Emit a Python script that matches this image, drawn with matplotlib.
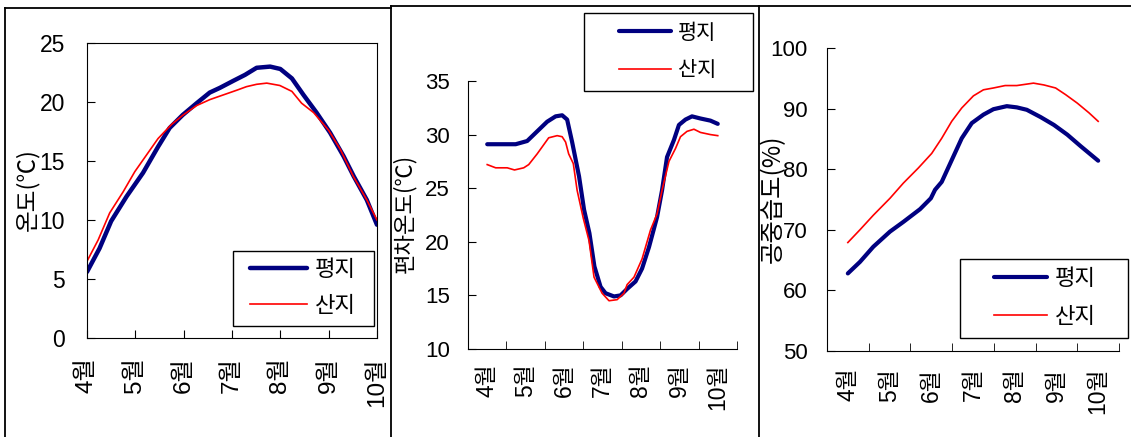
import matplotlib
matplotlib.use('Agg')
import matplotlib.pyplot as plt
from matplotlib.lines import Line2D
from matplotlib.legend_handler import HandlerLine2D

plt.rcParams['font.family'] = ['Liberation Sans', 'Noto Sans CJK KR', 'DejaVu Sans']

# 월별 눈금
months = [4, 5, 6, 7, 8, 9, 10]
month_labels = ['4월', '5월', '6월', '7월', '8월', '9월', '10월']
series_names = ['평지', '산지']

# 온도(℃)
temp_x_flat = [4.0, 4.26, 4.5, 4.82, 5.16, 5.47, 5.71, 5.98, 6.27, 6.54, 6.75, 7.03,
               7.27, 7.51, 7.79, 8.0, 8.24, 8.48, 8.75, 9.03, 9.31, 9.52, 9.79, 10.0]
temp_flat = [5.6, 7.6, 9.9, 12.0, 14.0, 16.2, 17.8, 18.9, 19.9, 20.8, 21.2, 21.8,
             22.3, 22.9, 23.0, 22.8, 22.0, 20.6, 19.1, 17.4, 15.4, 13.7, 11.7, 9.6]
temp_x_mtn = [4.0, 4.23, 4.47, 4.75, 4.99, 5.23, 5.47, 5.75, 5.99, 6.27, 6.54, 6.82, 7.10,
              7.30, 7.51, 7.72, 7.99, 8.24, 8.44, 8.69, 9.0, 9.24, 9.51, 9.79, 10.0]
temp_mtn = [6.5, 8.3, 10.6, 12.4, 14.1, 15.5, 16.9, 18.1, 18.9, 19.7, 20.2, 20.6, 21.0,
            21.3, 21.5, 21.6, 21.4, 20.9, 19.9, 19.1, 17.6, 16.0, 13.7, 11.7, 10.0]

# 편차온도(℃)
diff_x_flat = [4.0, 4.35, 4.74, 5.04, 5.30, 5.56, 5.78, 5.95, 6.08, 6.21, 6.39, 6.52, 6.66,
               6.79, 6.95, 7.08, 7.30, 7.47, 7.64, 7.86, 8.03, 8.21, 8.42, 8.55, 8.68, 8.86,
               8.99, 9.16, 9.33, 9.55, 9.81, 10.0]
diff_flat = [29.1, 29.1, 29.1, 29.4, 30.3, 31.2, 31.7, 31.8, 31.4, 29.3, 26.1, 23.0, 20.8,
             17.7, 15.8, 15.2, 14.9, 15.0, 15.6, 16.3, 17.5, 19.5, 22.3, 24.8, 27.9, 29.5,
             30.9, 31.4, 31.7, 31.5, 31.3, 31.0]
diff_x_mtn = [4.0, 4.22, 4.52, 4.71, 4.95, 5.08, 5.30, 5.60, 5.82, 5.95, 6.04, 6.12, 6.24,
              6.34, 6.50, 6.65, 6.78, 6.99, 7.17, 7.38, 7.56, 7.64, 7.82, 8.03, 8.25, 8.42,
              8.55, 8.73, 8.90, 9.03, 9.20, 9.38, 9.55, 9.81, 10.0]
diff_mtn = [27.2, 26.9, 26.9, 26.7, 26.9, 27.2, 28.2, 29.7, 29.9, 29.8, 29.3, 28.2, 27.3,
            24.8, 22.2, 20.1, 16.7, 15.2, 14.5, 14.6, 15.2, 16.0, 16.7, 18.4, 21.1, 22.6,
            24.8, 27.5, 28.7, 29.8, 30.3, 30.5, 30.2, 30.0, 29.9]

# 공중습도(%)
hum_x_flat = [4.0, 4.29, 4.61, 5.01, 5.33, 5.73, 5.99, 6.09, 6.25, 6.49, 6.73, 6.97,
              7.25, 7.49, 7.81, 8.05, 8.29, 8.62, 8.94, 9.26, 9.58, 10.0]
hum_flat = [62.8, 64.7, 67.2, 69.7, 71.3, 73.4, 75.2, 76.6, 77.9, 81.5, 85.1, 87.6,
            89.0, 89.9, 90.4, 90.2, 89.8, 88.6, 87.3, 85.7, 83.8, 81.4]
hum_x_mtn = [4.0, 4.29, 4.61, 5.01, 5.33, 5.69, 6.01, 6.25, 6.49, 6.73, 7.01, 7.25,
             7.49, 7.77, 8.05, 8.45, 8.70, 8.98, 9.22, 9.50, 9.78, 10.0]
hum_mtn = [67.9, 70.0, 72.4, 75.2, 77.7, 80.2, 82.6, 85.1, 87.9, 90.1, 92.1, 93.1,
           93.4, 93.8, 93.8, 94.2, 93.9, 93.4, 92.3, 90.9, 89.3, 87.9]

BLUE = '#000080'
RED = '#ff0000'
W, H = 1131.0, 437.0

fig = plt.figure(figsize=(11.31, 4.37), dpi=100)

ax1 = fig.add_axes([0.0769, 0.2265, 0.2564, 0.6751])
ax2 = fig.add_axes([0.4138, 0.2014, 0.2378, 0.6133])
ax3 = fig.add_axes([0.7312, 0.1968, 0.2582, 0.6934])


def draw_lines(ax, xf, yf, xm, ym, lw_blue):
    ax.plot(xf, yf, color=BLUE, lw=lw_blue, label=series_names[0], solid_capstyle='round')
    ax.plot(xm, ym, color=RED, lw=1.2, label=series_names[1])


def add_legend(ax, left, right, top, fs, xpad, line_len, bpad, lspace):
    # 범례 상자 폭은 픽셀 단위로 고정, 선 표시는 xpad 만큼 오른쪽으로
    h = HandlerLine2D(xpad=xpad)
    leg = ax.legend(loc='upper left', mode='expand',
                    bbox_to_anchor=(left / W, 0, (right - left) / W, 1 - top / H),
                    bbox_transform=fig.transFigure, handler_map={Line2D: h},
                    fontsize=fs, handlelength=xpad + line_len, fancybox=False,
                    framealpha=1, edgecolor='black', borderaxespad=0,
                    borderpad=bpad, labelspacing=lspace, handletextpad=0.35)
    leg.get_frame().set_linewidth(1.0)


# 1) 온도
draw_lines(ax1, temp_x_flat, temp_flat, temp_x_mtn, temp_mtn, 3.2)
ax1.set_xlim(4, 10)
ax1.set_ylim(0, 25)
ax1.set_yticks(range(0, 26, 5))
ax1.set_xticks(months)
ax1.set_xticklabels(month_labels, rotation=90, fontsize=17.5)
ax1.tick_params(axis='y', direction='in', length=6, pad=16, labelsize=16.5)
ax1.tick_params(axis='x', direction='in', length=6, pad=14)
add_legend(ax1, 233, 374, 251, 16, 0.36, 2.57, 0.4, 0.68)

# 2) 편차온도 / 3) 공중습도 : 월 구간 가운데에 라벨
for ax, xf, yf, xm, ym, lim, step, lpad, bpad in [
        (ax2, diff_x_flat, diff_flat, diff_x_mtn, diff_mtn, (10, 35), 5, 13, 10.5),
        (ax3, hum_x_flat, hum_flat, hum_x_mtn, hum_mtn, (50, 100), 10, 14, 12)]:
    draw_lines(ax, xf, yf, xm, ym, 3.0)
    ax.set_xlim(3.5, 10.5)
    ax.set_ylim(*lim)
    ax.set_yticks(range(lim[0], lim[1] + 1, step))
    ax.set_xticks(months)
    ax.set_xticklabels(month_labels, rotation=90, fontsize=16.5)
    ax.set_xticks([m - 0.5 for m in months] + [10.5], minor=True)
    ax.tick_params(axis='x', which='major', length=0, pad=bpad)
    ax.tick_params(axis='x', which='minor', direction='in', length=6)
    ax.tick_params(axis='y', direction='in', length=6, pad=lpad, labelsize=16)
    ax.spines['top'].set_visible(False)
    ax.spines['right'].set_visible(False)

add_legend(ax2, 584, 753, 13, 15, 1.18, 2.5, 0.5, 0.88)
add_legend(ax3, 960, 1128, 259, 16, 1.09, 2.38, 0.45, 0.77)

# 축 제목
cjk = ['Noto Sans CJK KR', 'DejaVu Sans']
fig.text(0.0239, 0.5652, '온도(℃)', rotation=90, ha='center', va='center',
         fontsize=17, family=cjk)
fig.text(0.3572, 0.5126, '편차온도(℃)', rotation=90, ha='center', va='center',
         fontsize=16, family=cjk)
fig.text(0.6835, 0.5446, '공중습도(%)', rotation=90, ha='center', va='center',
         fontsize=17.5, family=cjk)

# 패널 테두리
frame = [((5, 5), (8, 437)), ((5, 391), (8, 8)), ((391, 391), (6, 437)),
         ((391, 1131), (6, 6)), ((759, 759), (6, 437))]
for xs, ys in frame:
    fig.add_artist(Line2D([x / W for x in xs], [1 - y / H for y in ys],
                          color='black', lw=1.3, transform=fig.transFigure))

fig.savefig('out.png', dpi=100)
